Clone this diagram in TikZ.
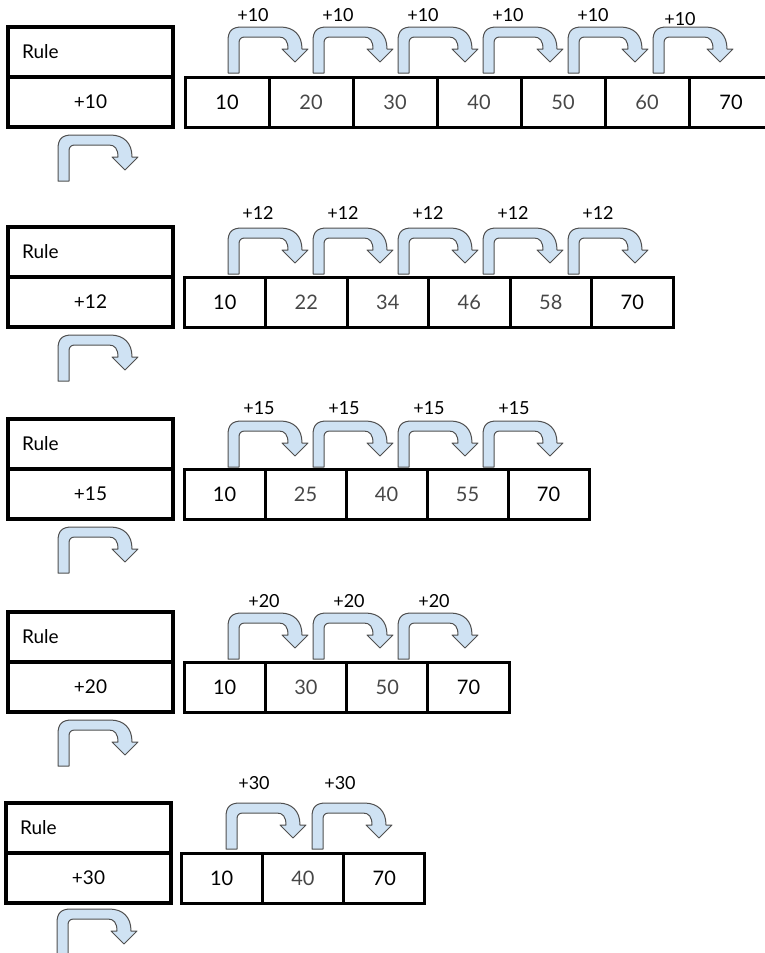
\documentclass[tikz,border=0pt]{standalone}
\usepackage{fontspec}
\setmainfont{Lato}
\definecolor{arrfill}{RGB}{207,226,243}
\definecolor{arrline}{RGB}{80,80,80}
\begin{document}
\begin{tikzpicture}[x=1pt,y=-1pt,
  ruletop/.style={draw,line width=3.2pt,minimum width=165pt,minimum height=50pt,inner ysep=0pt,inner xsep=14pt,text width=137pt,align=left,font=\fontsize{19}{21}\selectfont},
  rulebot/.style={draw,line width=3.2pt,minimum width=165pt,minimum height=50pt,inner sep=0pt,font=\fontsize{19}{21}\selectfont},
  cellbox/.style={draw,line width=3pt,minimum height=50pt,inner sep=0pt,font=\fontsize{20}{22}\selectfont},
  endnum/.style={text=black},
  midnum/.style={text=black!72},
  jumplabel/.style={font=\fontsize{18}{20}\selectfont,inner sep=0pt},
  jumpstyle/.style={fill=arrfill,draw=arrline,line width=1pt,line join=round},
  jump/.pic={\draw[jumpstyle] (0,46) -- (0,14) .. controls (0,4) and (4,0) .. (14,0) -- (52,0) .. controls (66,0) and (74,8) .. (74,22) -- (80,22) -- (67,35) -- (54,22) -- (60,22) .. controls (60,14) and (57,10) .. (51,10) -- (17,10) .. controls (13,10) and (11,12) .. (11,16) -- (11,46) -- cycle;}
]
\useasboundingbox (0,0) rectangle (765,953);

% ---------- Row 1 ----------
\def\T{27}
\node[ruletop] (rule1) at (90.5,\T+25) {Rule};
\node[rulebot] (rulev1) at (90.5,\T+75) {+10};
\foreach \v/\s [count=\i from 0] in {10/endnum,20/midnum,30/midnum,40/midnum,50/midnum,60/midnum,70/endnum}
  {\node[cellbox,\s,minimum width=84pt] (ca-\i) at ({185+84*\i+42},\T+75) {\v};}
\foreach \x in {228,313,398,483,568}
  {\pic at (\x,\T) {jump}; \node[jumplabel] (la-\x) at (\x+25,\T-12) {+10};}
\pic at (653,\T) {jump}; \node[jumplabel] (la-653) at (680,\T-8) {+10};
\pic at (58,\T+108) {jump};

% ---------- Row 2 ----------
\def\T{227}
\node[ruletop] (rule2) at (90.5,\T+25) {Rule};
\node[rulebot] (rulev2) at (90.5,\T+75) {+12};
\foreach \v/\s [count=\i from 0] in {10/endnum,22/midnum,34/midnum,46/midnum,58/midnum,70/endnum}
  {\node[cellbox,\s,minimum width=81.5pt] (cb-\i) at ({184+81.5*\i+40.75},\T+75) {\v};}
\foreach \x in {228,313,398,483,568}
  {\pic at (\x,\T+1) {jump}; \node[jumplabel] (lb-\x) at (\x+30,\T-14) {+12};}
\pic at (58,\T+108) {jump};

% ---------- Row 3 ----------
\def\T{419}
\node[ruletop] (rule3) at (90.5,\T+25) {Rule};
\node[rulebot] (rulev3) at (90.5,\T+75) {+15};
\foreach \v/\s [count=\i from 0] in {10/endnum,25/midnum,40/midnum,55/midnum,70/endnum}
  {\node[cellbox,\s,minimum width=81pt] (cc-\i) at ({184+81*\i+40.5},\T+75) {\v};}
\foreach \x in {228,313,398,483}
  {\pic at (\x,\T+2) {jump}; \node[jumplabel] (lc-\x) at (\x+31,\T-11) {+15};}
\pic at (58,\T+108) {jump};

% ---------- Row 4 ----------
\def\T{612}
\node[ruletop] (rule4) at (90.5,\T+25) {Rule};
\node[rulebot] (rulev4) at (90.5,\T+75) {+20};
\foreach \v/\s [count=\i from 0] in {10/endnum,30/midnum,50/midnum,70/endnum}
  {\node[cellbox,\s,minimum width=81.3pt] (cd-\i) at ({184+81.3*\i+40.65},\T+75) {\v};}
\foreach \x in {228,313,398}
  {\pic at (\x,\T+1) {jump}; \node[jumplabel] (ld-\x) at (\x+36,\T-11) {+20};}
\pic at (58,\T+108) {jump};

% ---------- Row 5 ----------
\def\T{803}
\node[ruletop] (rule5) at (88.5,\T+25) {Rule};
\node[rulebot] (rulev5) at (88.5,\T+75) {+30};
\foreach \v/\s [count=\i from 0] in {10/endnum,40/midnum,70/endnum}
  {\node[cellbox,\s,minimum width=81.3pt] (ce-\i) at ({181+81.3*\i+40.65},\T+75) {\v};}
\foreach \x in {226,312}
  {\pic at (\x,\T) {jump}; \node[jumplabel] (le-\x) at (\x+28,\T-20) {+30};}
\pic at (57,\T+106) {jump};
\end{tikzpicture}
\end{document}
